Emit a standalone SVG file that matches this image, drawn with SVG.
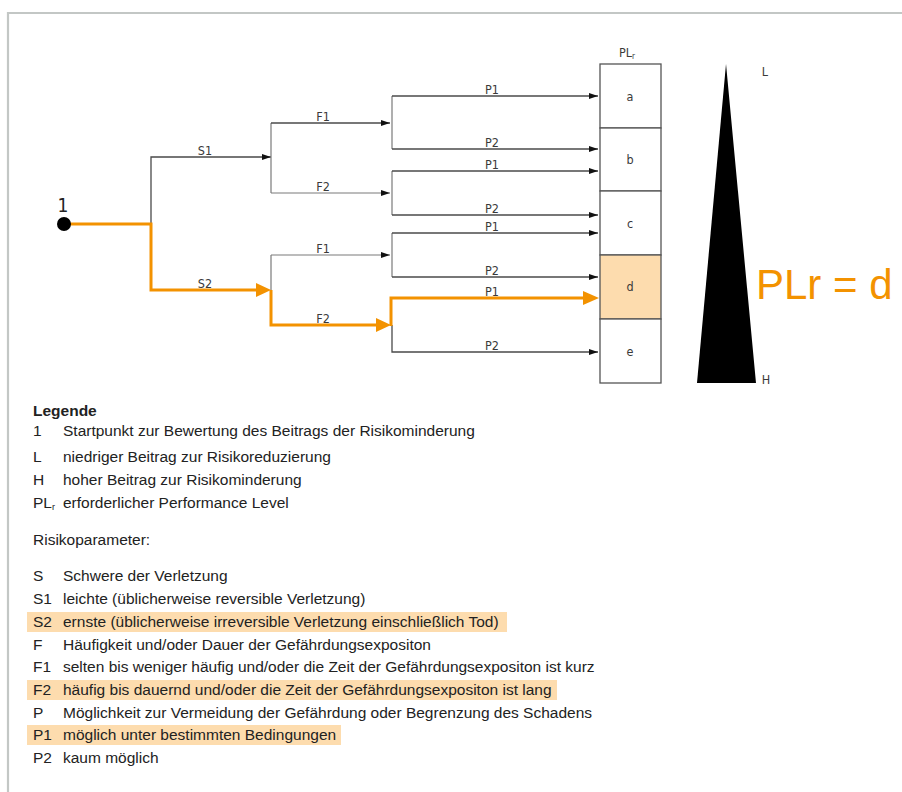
<svg xmlns="http://www.w3.org/2000/svg" width="902" height="792" viewBox="0 0 902 792">
<style>
.ln{fill:none;stroke:#4a4a4a;stroke-width:1.3}
.lg{fill:none;stroke:#7a7a7a;stroke-width:1.2}
.or{fill:none;stroke:#f39200;stroke-width:3}
.lab{font-family:"DejaVu Sans Condensed","DejaVu Sans",sans-serif;font-size:12.5px;fill:#3a3a3a;text-anchor:middle}
.box{fill:#fff;stroke:#555;stroke-width:1.3}
.leg{font-family:"Liberation Sans",Arial,sans-serif;font-size:15.5px;fill:#222}
.hl{fill:#fddcae}
</style>
<defs>
<marker id="ab" markerUnits="userSpaceOnUse" markerWidth="10" markerHeight="8" refX="9" refY="4" orient="auto">
<path d="M0,1 L9,4 L0,7 Z" fill="#111"/>
</marker>
</defs>
<rect width="902" height="792" fill="#fff"/>
<path d="M8,792 V13 H902" fill="none" stroke="#c3c7c5" stroke-width="2.2"/>

<g id="connectors">
<path class="ln" d="M151,224 V157 H271" marker-end="url(#ab)"/>
<path class="lg" d="M271,123 V193"/>
<path class="ln" d="M271,123 H390" marker-end="url(#ab)"/>
<path class="lg" d="M271,193 H390" marker-end="url(#ab)"/>
<path class="lg" d="M392,96 V149"/>
<path class="ln" d="M392,96 H598" marker-end="url(#ab)"/>
<path class="ln" d="M392,149 H598" marker-end="url(#ab)"/>
<path class="lg" d="M392,171 V215"/>
<path class="ln" d="M392,171 H598" marker-end="url(#ab)"/>
<path class="ln" d="M392,215 H598" marker-end="url(#ab)"/>
<path class="lg" d="M271,290 V255"/>
<path class="lg" d="M271,255 H390" marker-end="url(#ab)"/>
<path class="lg" d="M392,233 V277"/>
<path class="ln" d="M392,233 H598" marker-end="url(#ab)"/>
<path class="ln" d="M392,277 H598" marker-end="url(#ab)"/>
<path class="ln" d="M392,325 V352 H598" marker-end="url(#ab)"/>
<path class="or" d="M70,224 H151 V290 H257"/>
<polygon points="256,283 271,290 256,297" fill="#f39200"/>
<path class="or" d="M271,290 V325 H377"/>
<polygon points="376,318 391,325 376,332" fill="#f39200"/>
<path class="or" d="M391,326 V298 H584"/>
<polygon points="583,291 599,298 583,305" fill="#f39200"/>
<text class="lab" x="205" y="155">S1</text>
<text class="lab" x="205" y="288">S2</text>
<text class="lab" x="323" y="121">F1</text>
<text class="lab" x="323" y="191">F2</text>
<text class="lab" x="323" y="253">F1</text>
<text class="lab" x="323" y="323">F2</text>
<text class="lab" x="492" y="94">P1</text>
<text class="lab" x="492" y="147">P2</text>
<text class="lab" x="492" y="169">P1</text>
<text class="lab" x="492" y="213">P2</text>
<text class="lab" x="492" y="231">P1</text>
<text class="lab" x="492" y="275">P2</text>
<text class="lab" x="492" y="296">P1</text>
<text class="lab" x="492" y="350">P2</text>
</g>

<g id="start">
<circle cx="64" cy="224" r="7" fill="#000"/>
<text x="63" y="212" font-family="DejaVu Sans Condensed,DejaVu Sans,sans-serif" font-size="19" fill="#222" text-anchor="middle">1</text>
</g>

<g id="plr-header">
<text class="lab" x="627" y="57">PL<tspan font-size="8" dy="2">r</tspan></text>
</g>
<g id="plr-a"><rect class="box" x="600" y="64" width="61" height="64"/><text class="lab" x="630" y="101" font-size="11">a</text></g>
<g id="plr-b"><rect class="box" x="600" y="128" width="61" height="63"/><text class="lab" x="630" y="164" font-size="11">b</text></g>
<g id="plr-c"><rect class="box" x="600" y="191" width="61" height="64"/><text class="lab" x="630" y="228" font-size="11">c</text></g>
<g id="plr-d"><rect class="box" x="600" y="255" width="61" height="64" style="fill:#fddcae"/><text class="lab" x="630" y="291" font-size="11">d</text></g>
<g id="plr-e"><rect class="box" x="600" y="319" width="61" height="64"/><text class="lab" x="630" y="356" font-size="11">e</text></g>

<g id="scale">
<polygon points="726,64 697,383 756,383" fill="#000"/>
<text class="lab" x="765" y="76" font-size="11">L</text>
<text class="lab" x="766" y="384" font-size="11">H</text>
</g>

<g id="result">
<text x="756" y="299" font-family="Liberation Sans,Arial,sans-serif" font-size="42" fill="#f39200">PLr = d</text>
</g>

<g id="legend">
<rect class="hl" x="27" y="612" width="480" height="20"/>
<rect class="hl" x="27" y="680" width="530" height="20"/>
<rect class="hl" x="27" y="725" width="314" height="20"/>
<text class="leg" x="33" y="416" font-weight="bold">Legende</text>
<text class="leg" x="33" y="436">1</text><text class="leg" x="63" y="436">Startpunkt zur Bewertung des Beitrags der Risikominderung</text>
<text class="leg" x="33" y="462">L</text><text class="leg" x="63" y="462">niedriger Beitrag zur Risikoreduzierung</text>
<text class="leg" x="33" y="485">H</text><text class="leg" x="63" y="485">hoher Beitrag zur Risikominderung</text>
<text class="leg" x="33" y="508">PL<tspan font-size="9" dy="2">r</tspan></text><text class="leg" x="63" y="508">erforderlicher Performance Level</text>
<text class="leg" x="33" y="545">Risikoparameter:</text>
<text class="leg" x="33" y="581">S</text><text class="leg" x="63" y="581">Schwere der Verletzung</text>
<text class="leg" x="33" y="604">S1</text><text class="leg" x="63" y="604">leichte (üblicherweise reversible Verletzung)</text>
<text class="leg" x="33" y="627">S2</text><text class="leg" x="63" y="627">ernste (üblicherweise irreversible Verletzung einschließlich Tod)</text>
<text class="leg" x="33" y="650">F</text><text class="leg" x="63" y="650">Häufigkeit und/oder Dauer der Gefährdungsexpositon</text>
<text class="leg" x="33" y="672">F1</text><text class="leg" x="63" y="672">selten bis weniger häufig und/oder die Zeit der Gefährdungsexpositon ist kurz</text>
<text class="leg" x="33" y="695">F2</text><text class="leg" x="63" y="695">häufig bis dauernd und/oder die Zeit der Gefährdungsexpositon ist lang</text>
<text class="leg" x="33" y="718">P</text><text class="leg" x="63" y="718">Möglichkeit zur Vermeidung der Gefährdung oder Begrenzung des Schadens</text>
<text class="leg" x="33" y="740">P1</text><text class="leg" x="63" y="740">möglich unter bestimmten Bedingungen</text>
<text class="leg" x="33" y="763">P2</text><text class="leg" x="63" y="763">kaum möglich</text>
</g>
</svg>
